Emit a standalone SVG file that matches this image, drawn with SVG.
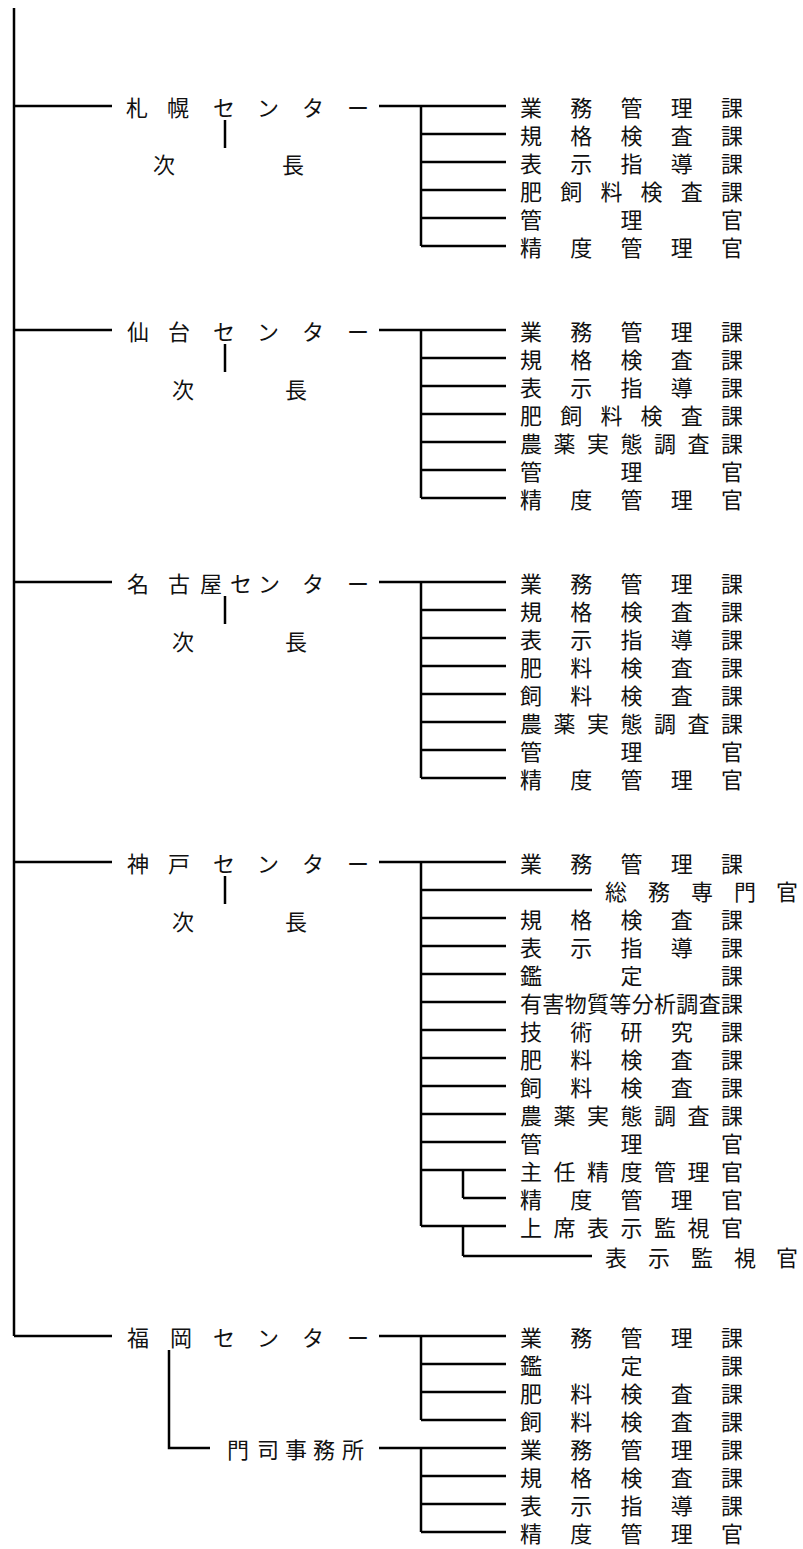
<svg xmlns="http://www.w3.org/2000/svg" width="803" height="1549" viewBox="0 0 803 1549">
<style>
text{font-family:"Noto Sans CJK JP","Noto Sans CJK SC",sans-serif;font-size:22px;fill:#111;}
.c line,.c path{stroke:#000;stroke-width:2.5;fill:none;}
</style>
<rect width="803" height="1549" fill="#fff"/>
<g class="c" id="connectors">
<line x1="14" y1="8" x2="14" y2="1336"/>
<!-- Sapporo -->
<line x1="14" y1="106" x2="112" y2="106"/>
<line x1="379" y1="106" x2="506" y2="106"/>
<line x1="225" y1="120" x2="225" y2="148"/>
<line x1="421" y1="106" x2="421" y2="246"/>
<line x1="421" y1="134" x2="506" y2="134"/>
<line x1="421" y1="162" x2="506" y2="162"/>
<line x1="421" y1="190" x2="506" y2="190"/>
<line x1="421" y1="218" x2="506" y2="218"/>
<line x1="421" y1="246" x2="506" y2="246"/>
<!-- Sendai -->
<line x1="14" y1="330" x2="112" y2="330"/>
<line x1="379" y1="330" x2="506" y2="330"/>
<line x1="225" y1="344" x2="225" y2="372"/>
<line x1="421" y1="330" x2="421" y2="498"/>
<line x1="421" y1="358" x2="506" y2="358"/>
<line x1="421" y1="386" x2="506" y2="386"/>
<line x1="421" y1="414" x2="506" y2="414"/>
<line x1="421" y1="442" x2="506" y2="442"/>
<line x1="421" y1="470" x2="506" y2="470"/>
<line x1="421" y1="498" x2="506" y2="498"/>
<!-- Nagoya -->
<line x1="14" y1="582" x2="112" y2="582"/>
<line x1="379" y1="582" x2="506" y2="582"/>
<line x1="225" y1="596" x2="225" y2="624"/>
<line x1="421" y1="582" x2="421" y2="778"/>
<line x1="421" y1="610" x2="506" y2="610"/>
<line x1="421" y1="638" x2="506" y2="638"/>
<line x1="421" y1="666" x2="506" y2="666"/>
<line x1="421" y1="694" x2="506" y2="694"/>
<line x1="421" y1="722" x2="506" y2="722"/>
<line x1="421" y1="750" x2="506" y2="750"/>
<line x1="421" y1="778" x2="506" y2="778"/>
<!-- Kobe -->
<line x1="14" y1="862" x2="112" y2="862"/>
<line x1="379" y1="862" x2="506" y2="862"/>
<line x1="225" y1="876" x2="225" y2="904"/>
<line x1="421" y1="862" x2="421" y2="1226"/>
<line x1="421" y1="890" x2="592" y2="890"/>
<line x1="421" y1="918" x2="506" y2="918"/>
<line x1="421" y1="946" x2="506" y2="946"/>
<line x1="421" y1="974" x2="506" y2="974"/>
<line x1="421" y1="1002" x2="506" y2="1002"/>
<line x1="421" y1="1030" x2="506" y2="1030"/>
<line x1="421" y1="1058" x2="506" y2="1058"/>
<line x1="421" y1="1086" x2="506" y2="1086"/>
<line x1="421" y1="1114" x2="506" y2="1114"/>
<line x1="421" y1="1142" x2="506" y2="1142"/>
<line x1="421" y1="1170" x2="506" y2="1170"/>
<line x1="463" y1="1170" x2="463" y2="1198"/>
<line x1="463" y1="1198" x2="506" y2="1198"/>
<line x1="421" y1="1226" x2="506" y2="1226"/>
<line x1="463" y1="1226" x2="463" y2="1256"/>
<line x1="463" y1="1256" x2="592" y2="1256"/>
<!-- Fukuoka -->
<line x1="14" y1="1336" x2="112" y2="1336"/>
<line x1="379" y1="1336" x2="506" y2="1336"/>
<line x1="421" y1="1336" x2="421" y2="1420"/>
<line x1="421" y1="1364" x2="506" y2="1364"/>
<line x1="421" y1="1392" x2="506" y2="1392"/>
<line x1="421" y1="1420" x2="506" y2="1420"/>
<path d="M169 1350 V1448 H210"/>
<line x1="379" y1="1448" x2="506" y2="1448"/>
<line x1="421" y1="1448" x2="421" y2="1532"/>
<line x1="421" y1="1476" x2="506" y2="1476"/>
<line x1="421" y1="1504" x2="506" y2="1504"/>
<line x1="421" y1="1532" x2="506" y2="1532"/>
</g>

<g id="sapporo">
<text x="126 167 213 257 302 347" y="116">札幌センター</text>
<text x="153" y="173">次</text><text x="282" y="173">長</text>
</g>
<g id="sapporo-units">
<text x="520 570.25 620.5 670.75 721" y="116">業務管理課</text>
<text x="520 570.25 620.5 670.75 721" y="144">規格検査課</text>
<text x="520 570.25 620.5 670.75 721" y="172">表示指導課</text>
<text x="520 560.2 600.4 640.6 680.8 721" y="200">肥飼料検査課</text>
<text x="520 620.5 721" y="228">管理官</text>
<text x="520 570.25 620.5 670.75 721" y="256">精度管理官</text>
</g>

<g id="sendai">
<text x="127 168 213 257 302 347" y="340">仙台センター</text>
<text x="172" y="398">次</text><text x="285" y="398">長</text>
</g>
<g id="sendai-units">
<text x="520 570.25 620.5 670.75 721" y="340">業務管理課</text>
<text x="520 570.25 620.5 670.75 721" y="368">規格検査課</text>
<text x="520 570.25 620.5 670.75 721" y="396">表示指導課</text>
<text x="520 560.2 600.4 640.6 680.8 721" y="424">肥飼料検査課</text>
<text x="520 553.5 587 620.5 654 687.5 721" y="452">農薬実態調査課</text>
<text x="520 620.5 721" y="480">管理官</text>
<text x="520 570.25 620.5 670.75 721" y="508">精度管理官</text>
</g>

<g id="nagoya">
<text x="127 168 200 230 258 302 347" y="592">名古屋センター</text>
<text x="172" y="650">次</text><text x="285" y="650">長</text>
</g>
<g id="nagoya-units">
<text x="520 570.25 620.5 670.75 721" y="592">業務管理課</text>
<text x="520 570.25 620.5 670.75 721" y="620">規格検査課</text>
<text x="520 570.25 620.5 670.75 721" y="648">表示指導課</text>
<text x="520 570.25 620.5 670.75 721" y="676">肥料検査課</text>
<text x="520 570.25 620.5 670.75 721" y="704">飼料検査課</text>
<text x="520 553.5 587 620.5 654 687.5 721" y="732">農薬実態調査課</text>
<text x="520 620.5 721" y="760">管理官</text>
<text x="520 570.25 620.5 670.75 721" y="788">精度管理官</text>
</g>

<g id="kobe">
<text x="127 168 213 257 302 347" y="872">神戸センター</text>
<text x="172" y="930">次</text><text x="285" y="930">長</text>
</g>
<g id="kobe-units">
<text x="520 570.25 620.5 670.75 721" y="872">業務管理課</text>
<text x="605 648 691 734 776" y="900">総務専門官</text>
<text x="520 570.25 620.5 670.75 721" y="928">規格検査課</text>
<text x="520 570.25 620.5 670.75 721" y="956">表示指導課</text>
<text x="520 620.5 721" y="984">鑑定課</text>
<text x="520 542.3 564.7 587 609.3 631.7 654 676.3 698.7 721" y="1012">有害物質等分析調査課</text>
<text x="520 570.25 620.5 670.75 721" y="1040">技術研究課</text>
<text x="520 570.25 620.5 670.75 721" y="1068">肥料検査課</text>
<text x="520 570.25 620.5 670.75 721" y="1096">飼料検査課</text>
<text x="520 553.5 587 620.5 654 687.5 721" y="1124">農薬実態調査課</text>
<text x="520 620.5 721" y="1152">管理官</text>
<text x="520 553.5 587 620.5 654 687.5 721" y="1180">主任精度管理官</text>
<text x="520 570.25 620.5 670.75 721" y="1208">精度管理官</text>
<text x="520 553.5 587 620.5 654 687.5 721" y="1236">上席表示監視官</text>
<text x="605 648 691 734 776" y="1266">表示監視官</text>
</g>

<g id="fukuoka">
<text x="127 170 213 257 302 347" y="1346">福岡センター</text>
</g>
<g id="fukuoka-units">
<text x="520 570.25 620.5 670.75 721" y="1346">業務管理課</text>
<text x="520 620.5 721" y="1374">鑑定課</text>
<text x="520 570.25 620.5 670.75 721" y="1402">肥料検査課</text>
<text x="520 570.25 620.5 670.75 721" y="1430">飼料検査課</text>
</g>

<g id="moji">
<text x="227 257 285 313 342" y="1458">門司事務所</text>
</g>
<g id="moji-units">
<text x="520 570.25 620.5 670.75 721" y="1458">業務管理課</text>
<text x="520 570.25 620.5 670.75 721" y="1486">規格検査課</text>
<text x="520 570.25 620.5 670.75 721" y="1514">表示指導課</text>
<text x="520 570.25 620.5 670.75 721" y="1542">精度管理官</text>
</g>
</svg>
